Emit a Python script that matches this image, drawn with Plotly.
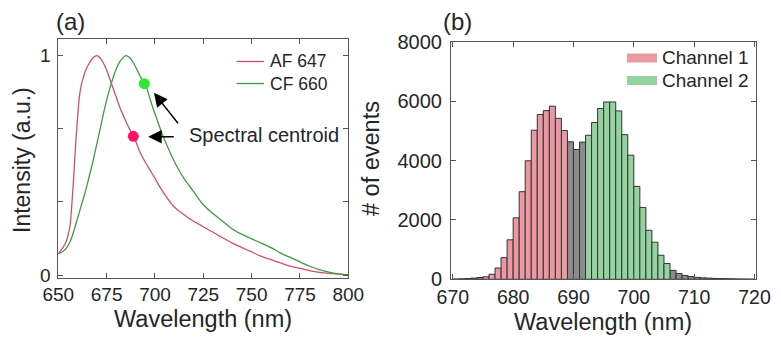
import plotly.graph_objects as go

# ---------------- Data: panel (a) emission spectra ----------------
af647_wl = [650, 652, 654, 655, 656, 657, 658, 659, 660, 661, 662, 663, 664, 666, 668, 670,
            672, 674, 676, 678, 680, 682, 684, 686, 688, 690, 692, 694, 696, 698, 700, 703,
            706, 710, 715, 720, 725, 730, 735, 740, 745, 750, 755, 760, 765, 770, 775, 780,
            785, 790, 795, 800]
af647_int = [0.097, 0.12, 0.15, 0.18, 0.22, 0.32, 0.45, 0.60, 0.72, 0.82, 0.87, 0.90, 0.93, 0.965, 0.99, 1.0,
             0.985, 0.955, 0.91, 0.86, 0.81, 0.76, 0.72, 0.68, 0.645, 0.61, 0.565, 0.53, 0.50, 0.47, 0.44, 0.395,
             0.355, 0.31, 0.275, 0.245, 0.22, 0.195, 0.17, 0.145, 0.125, 0.105, 0.085, 0.07, 0.055, 0.04, 0.03, 0.02,
             0.012, 0.007, 0.004, 0.002]

cf660_wl = [650, 652, 654, 656, 658, 660, 662, 664, 666, 668, 670, 672, 674, 676, 678, 680,
            682, 684, 685, 687, 689, 691, 693, 695, 697, 699, 701, 703, 705, 707, 709, 711,
            715, 720, 725, 730, 735, 740, 745, 750, 755, 760, 765, 770, 775, 780, 785, 790,
            795, 800]
cf660_int = [0.097, 0.105, 0.12, 0.15, 0.20, 0.26, 0.32, 0.38, 0.45, 0.52, 0.60, 0.68, 0.76, 0.83, 0.89, 0.94,
             0.975, 0.995, 1.0, 0.99, 0.965, 0.93, 0.895, 0.87, 0.815, 0.76, 0.71, 0.66, 0.615, 0.575, 0.535, 0.50,
             0.44, 0.38, 0.32, 0.28, 0.245, 0.21, 0.185, 0.165, 0.145, 0.125, 0.10, 0.08, 0.06, 0.04, 0.025, 0.013,
             0.005, 0.0]

centroid_wl = [688.8, 694.5]
centroid_int = [0.632, 0.872]
centroid_colors = ["#ff1464", "#33e633"]

# ---------------- Data: panel (b) histogram ----------------
hist_left_edges = list(range(670, 720))
hist_counts = [10, 15, 25, 40, 60, 85, 170, 380, 730, 1330,
               2070, 2950, 3990, 5020, 5550, 5680, 5830, 5420, 5010, 4630,
               4370, 4620, 4850, 5280, 5750, 5970, 5970, 5670, 4870, 4180,
               3130, 2420, 1650, 1250, 810, 530, 300, 195, 130, 90,
               65, 50, 40, 30, 25, 20, 15, 10, 8, 5]
channel1_bins = (675, 688)   # inclusive left edges
channel2_bins = (692, 705)

FONT = "Liberation Sans, Arial, sans-serif"
OFF = 8                      # page body margin
W, H = 781 - OFF, 339 - OFF
AXC = "#555555"
TXT = "#262626"


def px(x):
    return (x - OFF) / W


def py(y):
    return 1 - (y - OFF) / H


fig = go.Figure()

# panel (a)
fig.add_trace(go.Scatter(x=af647_wl, y=af647_int, mode="lines",
                         line=dict(color="#cf5064", width=1.3), xaxis="x", yaxis="y",
                         showlegend=False, line_shape="spline"))
fig.add_trace(go.Scatter(x=cf660_wl, y=cf660_int, mode="lines",
                         line=dict(color="#3f9a45", width=1.3), xaxis="x", yaxis="y",
                         showlegend=False, line_shape="spline"))
fig.add_trace(go.Scatter(x=centroid_wl, y=centroid_int, mode="markers",
                         marker=dict(color=centroid_colors, size=11, line=dict(width=0)),
                         xaxis="x", yaxis="y", showlegend=False))

# panel (b)
def pick(cond):
    xs, ys = [], []
    for e, c in zip(hist_left_edges, hist_counts):
        if cond(e):
            xs.append(e + 0.5)
            ys.append(c)
    return xs, ys


in1 = lambda e: channel1_bins[0] <= e <= channel1_bins[1]
in2 = lambda e: channel2_bins[0] <= e <= channel2_bins[1]
for cond, col in [(lambda e: not in1(e) and not in2(e), "#8c8c8c"),
                  (in1, "#eb98a2"),
                  (in2, "#92d3a0")]:
    xs, ys = pick(cond)
    fig.add_trace(go.Bar(x=xs, y=ys, width=1, xaxis="x2", yaxis="y2",
                         marker=dict(color=col, line=dict(color="#333333", width=1)),
                         showlegend=False))


def axis(size, standoff, **kw):
    d = dict(showline=True, linecolor=AXC, linewidth=1, mirror="ticks",
             ticks="inside", ticklen=5, tickcolor=AXC, showgrid=False, zeroline=False,
             automargin=False, tickfont=dict(family=FONT, size=size, color=TXT),
             ticklabelstandoff=standoff)
    d.update(kw)
    return d


fig.update_layout(
    width=W, height=H,
    margin=dict(l=0, r=0, t=0, b=0, autoexpand=False),
    paper_bgcolor="white", plot_bgcolor="white",
    font=dict(family=FONT, color=TXT),
    barmode="overlay",
    xaxis=axis(19, -1, domain=[px(58.3), px(348.3)], range=[650, 800], anchor="y",
               tickvals=[650, 675, 700, 725, 750, 775, 800]),
    yaxis=axis(19, 3, domain=[py(278.3), py(39.3)], range=[-0.015, 1.074], anchor="x",
               tickvals=[0, 1 / 3, 2 / 3, 1], ticktext=["0", "", "", "1"]),
    xaxis2=axis(19.5, 0, domain=[px(451), px(755.7)], range=[669.7, 720.2], anchor="y2",
                tickvals=[670, 680, 690, 700, 710, 720]),
    yaxis2=axis(20, 4, domain=[py(279.3), py(41.7)], range=[0, 8000], anchor="x2",
                tickvals=[0, 2000, 4000, 6000, 8000]),
)

ann = []
# axis titles
ann.append(dict(text="Wavelength (nm)", x=px(203.3), y=py(319), xref="paper", yref="paper",
                showarrow=False, font=dict(size=23.5), xanchor="center", yanchor="middle"))
ann.append(dict(text="Wavelength (nm)", x=px(603.3), y=py(321.5), xref="paper", yref="paper",
                showarrow=False, font=dict(size=23.5), xanchor="center", yanchor="middle"))
ann.append(dict(text="Intensity (a.u.)", x=px(22), y=py(160), xref="paper", yref="paper",
                showarrow=False, font=dict(size=23), textangle=-90, xanchor="center", yanchor="middle"))
ann.append(dict(text="# of events", x=px(371), y=py(159), xref="paper", yref="paper",
                showarrow=False, font=dict(size=23.5), textangle=-90, xanchor="center", yanchor="middle"))
# panel labels
ann.append(dict(text="(a)", x=px(54), y=py(22), xref="paper", yref="paper",
                showarrow=False, font=dict(size=24), xanchor="left", yanchor="middle"))
ann.append(dict(text="(b)", x=px(441), y=py(21), xref="paper", yref="paper",
                showarrow=False, font=dict(size=24), xanchor="left", yanchor="middle"))
# legend (a)
ann.append(dict(text="AF 647", x=px(268), y=py(61.5), xref="paper", yref="paper",
                showarrow=False, font=dict(size=17.5), xanchor="left", yanchor="middle"))
ann.append(dict(text="CF 660", x=px(268), y=py(83.5), xref="paper", yref="paper",
                showarrow=False, font=dict(size=17.5), xanchor="left", yanchor="middle"))
# legend (b)
ann.append(dict(text="Channel 1", x=px(660), y=py(58), xref="paper", yref="paper",
                showarrow=False, font=dict(size=19), xanchor="left", yanchor="middle"))
ann.append(dict(text="Channel 2", x=px(660), y=py(80.5), xref="paper", yref="paper",
                showarrow=False, font=dict(size=19), xanchor="left", yanchor="middle"))
# spectral centroid label + arrows
ann.append(dict(text="Spectral centroid", x=716.5, y=0.638, xref="x", yref="y",
                showarrow=False, font=dict(size=20), xanchor="left", yanchor="middle"))
ann.append(dict(text="", x=699.5, y=0.83, ax=712.5, ay=0.685, xref="x", yref="y",
                axref="x", ayref="y", showarrow=True, arrowhead=2, arrowsize=1.8,
                arrowwidth=1.5, arrowcolor="black"))
ann.append(dict(text="", x=696.5, y=0.63, ax=710.5, ay=0.63, xref="x", yref="y",
                axref="x", ayref="y", showarrow=True, arrowhead=2, arrowsize=1.8,
                arrowwidth=1.5, arrowcolor="black"))
fig.update_layout(annotations=ann)

shapes = [
    dict(type="line", x0=px(236.5), x1=px(264), y0=py(61.5), y1=py(61.5), xref="paper", yref="paper",
         line=dict(color="#cf5064", width=1.3)),
    dict(type="line", x0=px(236.5), x1=px(264), y0=py(83.5), y1=py(83.5), xref="paper", yref="paper",
         line=dict(color="#3f9a45", width=1.3)),
    dict(type="rect", x0=px(627), x1=px(657), y0=py(62.5), y1=py(53.5), xref="paper", yref="paper",
         fillcolor="#eb98a2", line=dict(width=0)),
    dict(type="rect", x0=px(627), x1=px(657), y0=py(85), y1=py(76), xref="paper", yref="paper",
         fillcolor="#92d3a0", line=dict(width=0)),
]
fig.update_layout(shapes=shapes)

fig.write_html("out.html")
